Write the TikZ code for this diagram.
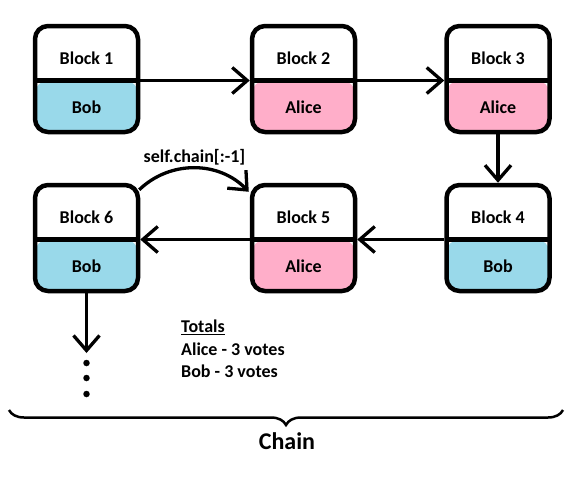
\documentclass[tikz,border=0pt]{standalone}
\usepackage{fontspec}
\setmainfont{Carlito}
\usetikzlibrary{arrows.meta, decorations.pathreplacing}
\definecolor{bob fill}{RGB}{153,217,234}
\definecolor{alice fill}{RGB}{255,174,201}
\newcommand{\diagfont}{\fontsize{18}{22}\selectfont\bfseries}
\newcommand{\blocktext}[2]{\rule{0pt}{20pt}#1\\[27pt]#2}
\tikzset{
  block/.style={draw, line width=4.5pt, rounded corners=13pt,
    minimum width=103pt, minimum height=106pt, inner sep=0pt,
    align=center, font=\diagfont,
    path picture={
      \fill[#1] ([yshift=-1.5pt]path picture bounding box.west) rectangle (path picture bounding box.south east);
      \draw[line width=4.5pt] ([yshift=-1.5pt]path picture bounding box.west) -- ([yshift=-1.5pt]path picture bounding box.east);}},
  link/.style={-{Straight Barb[length=15pt, width=26pt]}, line width=3.3pt},
  dot/.style={circle, fill, inner sep=0pt, minimum size=6.5pt},
  totals/.style={align=left, inner sep=0pt, font=\fontsize{18}{22.5}\selectfont\bfseries},
  brace/.style={decorate, decoration={brace, amplitude=15pt}, line width=2.5pt}
}

\begin{document}
\begin{tikzpicture}[x=1pt, y=-1pt]
  \useasboundingbox (0,0) rectangle (571,482);
  \node[block=bob fill] (b1) at (86.5,79) {\blocktext{Block 1}{Bob}};
  \node[block=alice fill] (b2) at (303.5,79) {\blocktext{Block 2}{Alice}};
  \node[block=alice fill] (b3) at (498,79) {\blocktext{Block 3}{Alice}};
  \node[block=bob fill] (b4) at (498,238) {\blocktext{Block 4}{Bob}};
  \node[block=alice fill] (b5) at (303.5,238) {\blocktext{Block 5}{Alice}};
  \node[block=bob fill] (b6) at (86.5,238) {\blocktext{Block 6}{Bob}};

  \draw[link] ([yshift=-1.5pt]b1.east) -- ([yshift=-1.5pt]b2.west);
  \draw[link] ([yshift=-1.5pt]b2.east) -- ([yshift=-1.5pt]b3.west);
  \draw[link] (b3) -- (b4);
  \draw[link] ([yshift=-1.5pt]b4.west) -- ([yshift=-1.5pt]b5.east);
  \draw[link] ([yshift=-1.5pt]b5.west) -- ([yshift=-1.5pt]b6.east);
  \draw[link] ([xshift=-1pt, yshift=-7pt]b6.north east) to[bend left=45]
    node[midway, above, inner sep=1pt, font=\diagfont] (selfchain) {self.chain[:-1]}
    ([xshift=-1pt, yshift=-9pt]b5.north west);

  \coordinate (tail) at (86.5,353);
  \draw[link] (b6) -- (tail);
  \foreach \i/\y in {1/363, 2/378, 3/394}
    \node[dot] (dot\i) at (86.5,\y) {};

  \node[totals, anchor=north west] (totals) at (181,320)
    {\underline{Totals}\\Alice - 3 votes\\Bob - 3 votes};

  \coordinate (braceR) at (563,410);
  \coordinate (braceL) at (9,410);
  \draw[brace] (braceR) -- (braceL);
  \node[font=\fontsize{24}{28}\selectfont\bfseries] (chain) at (287,441) {Chain};
\end{tikzpicture}
\end{document}
